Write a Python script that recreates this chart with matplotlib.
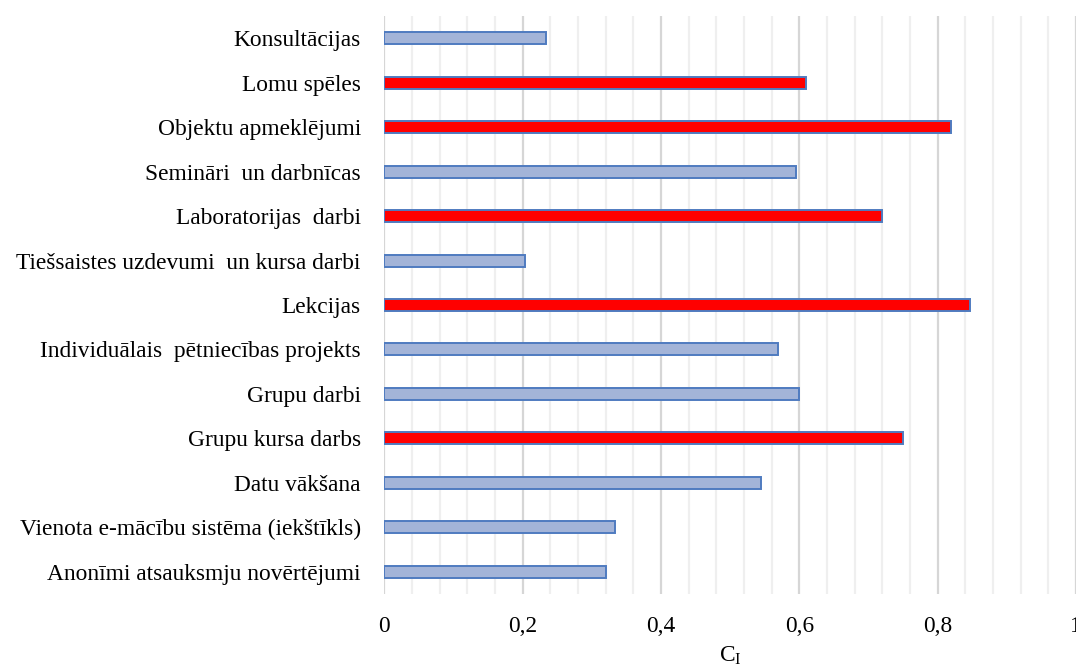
import matplotlib
matplotlib.use("Agg")
import matplotlib.pyplot as plt
from matplotlib.ticker import MultipleLocator, FuncFormatter

# Mācību formas un to koeficients C_I (no augšas uz leju)
categories = [
    "Konsultācijas",
    "Lomu spēles",
    "Objektu apmeklējumi",
    "Semināri  un darbnīcas",
    "Laboratorijas  darbi",
    "Tiešsaistes uzdevumi  un kursa darbi",
    "Lekcijas",
    "Individuālais  pētniecības projekts",
    "Grupu darbi",
    "Grupu kursa darbs",
    "Datu vākšana",
    "Vienota e-mācību sistēma (iekštīkls)",
    "Anonīmi atsauksmju novērtējumi",
]
values = [0.234, 0.610, 0.819, 0.595, 0.719, 0.203, 0.847,
          0.569, 0.599, 0.750, 0.544, 0.333, 0.320]
highlighted = [False, True, True, False, True, False, True,
               False, False, True, False, False, False]

BLUE_FILL = "#A3B4D8"
BLUE_EDGE = "#4F7BC0"
RED_FILL = "#FF0000"

plt.rcParams["font.family"] = ["Liberation Serif", "DejaVu Serif"]

fig = plt.figure(figsize=(10.76, 6.68), dpi=100)
ax = fig.add_axes([384.4 / 1076, 1 - 594 / 668, (1076 - 384.4) / 1076, (594 - 16) / 668])

colors = [RED_FILL if h else BLUE_FILL for h in highlighted]
ax.barh(range(len(categories)), values, height=0.27, color=colors,
        edgecolor=BLUE_EDGE, linewidth=1.4, zorder=3)

ax.set_ylim(len(categories) - 0.5, -0.5)
ax.set_xlim(0, 1)
ax.set_yticks(range(len(categories)))
ax.set_yticklabels(categories)

ax.xaxis.set_major_locator(MultipleLocator(0.2))
ax.xaxis.set_minor_locator(MultipleLocator(0.04))
ax.xaxis.set_major_formatter(FuncFormatter(lambda v, _: f"{v:g}".replace(".", ",")))
ax.grid(axis="x", which="major", color="#D6D6D6", linewidth=1.6, zorder=0)
ax.grid(axis="x", which="minor", color="#EFEFEF", linewidth=1.6, zorder=0)

ax.tick_params(axis="both", which="both", length=0, labelsize=16.8)
ax.tick_params(axis="y", pad=17)
ax.tick_params(axis="x", pad=16)
for s in ax.spines.values():
    s.set_visible(False)

ax.set_xlabel("C$_\\mathregular{I}$", fontsize=16.8, labelpad=5)

fig.savefig("out.png", dpi=100)
